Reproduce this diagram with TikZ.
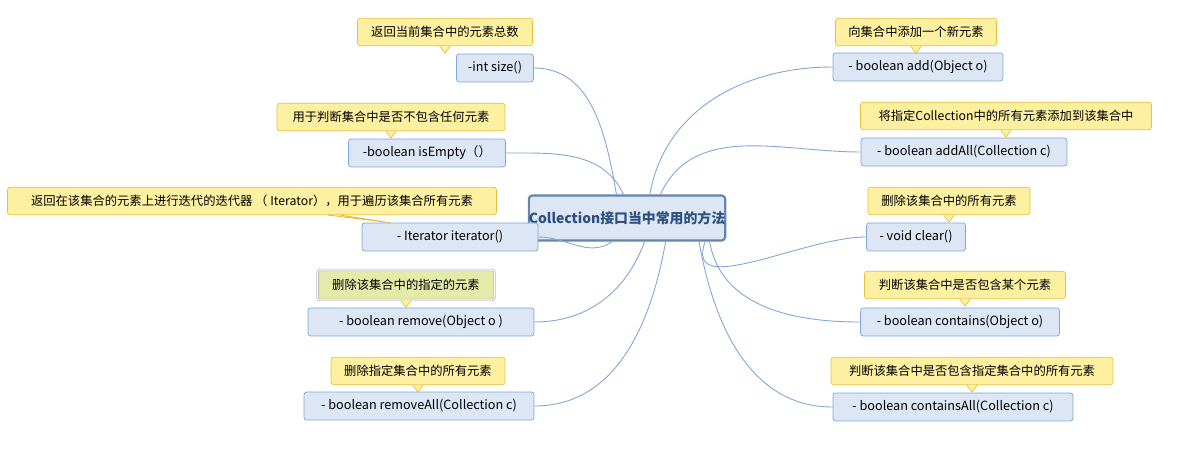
\documentclass[tikz,border=0pt]{standalone}
\usepackage{fontspec}
\setmainfont{Noto Sans CJK SC}
\usetikzlibrary{positioning}
\definecolor{mfill}{HTML}{DCE6F4}
\definecolor{mline}{HTML}{7EA6D8}
\definecolor{cfill}{HTML}{FDF0A0}
\definecolor{cline}{HTML}{E8C040}
\definecolor{gfill}{HTML}{E3EBA8}
\definecolor{ctext}{HTML}{2F4F7F}
\begin{document}
\begin{tikzpicture}[x=0.02cm,y=-0.02cm]
\tikzset{methode/.style={draw=mline, fill=mfill, rounded corners=1.5pt, font=\fontsize{7.2}{8}\selectfont, inner sep=0pt, minimum height=0.56cm},
  bulle/.style={draw=cline, fill=cfill, rounded corners=1.5pt, font=\fontsize{7}{8}\selectfont, inner sep=0pt, minimum height=0.55cm},
  lien/.style={draw=mline, line width=0.5pt}};
\useasboundingbox (0,0) rectangle (1183,455);

\node[draw=mline!80!black, line width=1.2pt, fill=mfill, rounded corners=2pt, inner sep=0pt, minimum width=3.62cm, minimum height=0.9cm, font=\fontsize{7.9}{9}\bfseries\selectfont, text=ctext] (centre) at (627,218) {Collection接口当中常用的方法};

\node[methode, minimum width=1.54cm] (size) at (495,68) {-int size()};
\node[methode, minimum width=3.14cm] (vide) at (427,153) {-boolean isEmpty（）};
\node[methode, minimum width=3.52cm] (iter) at (450,237) {- Iterator iterator()};
\node[methode, minimum width=4.52cm] (suppr) at (421,322) {- boolean remove(Object o )};
\node[methode, minimum width=4.6cm] (supprtout) at (419,406) {- boolean removeAll(Collection c)};
\node[methode, minimum width=3.4cm] (ajout) at (918,67) {- boolean add(Object o)};
\node[methode, minimum width=4.12cm] (ajouttout) at (964,152) {- boolean addAll(Collection c)};
\node[methode, minimum width=1.98cm] (vider) at (916,237) {- void clear()};
\node[methode, minimum width=3.98cm] (contient) at (960,322) {- boolean contains(Object o)};
\node[methode, minimum width=4.8cm] (contienttout) at (953,407) {- boolean containsAll(Collection c)};

\node[bulle, minimum width=3.5cm] (b1) at (445,32) {返回当前集合中的元素总数};
\node[bulle, minimum width=4.56cm] (b2) at (391,117) {用于判断集合中是否不包含任何元素};
\node[bulle, minimum width=9.78cm] (b3) at (252,201) {返回在该集合的元素上进行迭代的迭代器 （ Iterator），用于遍历该集合所有元素};
\node[bulle, draw=gray!60, fill=gfill, double=white, minimum width=3.54cm, minimum height=0.6cm] (b4) at (406,285) {删除该集合中的指定的元素};
\node[bulle, minimum width=3.48cm] (b5) at (418,371) {删除指定集合中的所有元素};
\node[bulle, minimum width=3.22cm] (b6) at (916,32) {向集合中添加一个新元素};
\node[bulle, minimum width=5.82cm] (b7) at (1006,116) {将指定Collection中的所有元素添加到该集合中};
\node[bulle, minimum width=3.24cm] (b8) at (949,201) {删除该集合中的所有元素};
\node[bulle, minimum width=4.02cm] (b9) at (965,285) {判断该集合中是否包含某个元素};
\node[bulle, minimum width=5.64cm] (b10) at (972,371) {判断该集合中是否包含指定集合中的所有元素};

% pointes des bulles
\foreach \b in {b1,b2,b4,b5,b6,b7,b8,b9,b10}
  \filldraw[draw=cline, fill=cfill] ([xshift=-3pt]\b.south) -- ([yshift=-4pt]\b.south) -- ([xshift=3pt]\b.south);
\filldraw[draw=cline!80!orange, fill=cfill, line width=0.4pt] ([xshift=-96pt]b3.south east) -- ([xshift=16pt]iter.north west) -- ([xshift=-89pt]b3.south east);

% liens
\draw[lien] ([xshift=-6pt]centre.north) to[out=100,in=0] (size.east);
\draw[lien] ([xshift=-2pt]centre.north) to[out=115,in=0] (vide.east);
\draw[lien] ([xshift=48pt]centre.south west) to[out=215,in=0] (iter.east);
\draw[lien] ([xshift=10pt]centre.south) to[out=250,in=0] (suppr.east);
\draw[lien] ([xshift=22pt]centre.south) to[out=260,in=0] (supprtout.east);
\draw[lien] ([xshift=13pt]centre.north) to[out=80,in=180] (ajout.west);
\draw[lien] ([xshift=19pt]centre.north) to[out=65,in=180] (ajouttout.west);
\draw[lien] ([xshift=-12pt]centre.south east) to[out=250,in=180] (vider.west);
\draw[lien] ([xshift=47pt]centre.south) to[out=280,in=180] (contient.west);
\draw[lien] ([xshift=41pt]centre.south) to[out=280,in=180] (contienttout.west);
\end{tikzpicture}
\end{document}
